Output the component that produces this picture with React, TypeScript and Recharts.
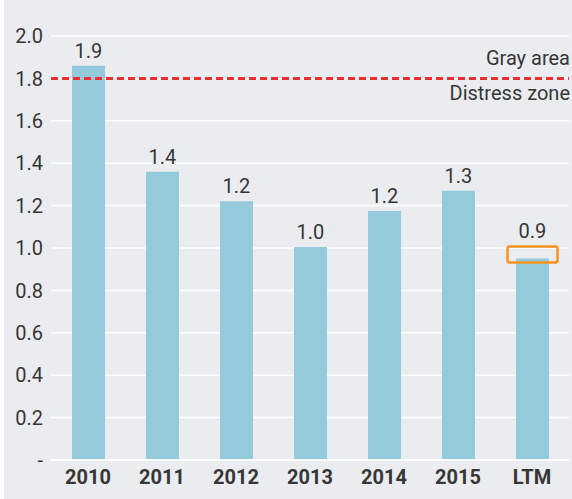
import React from "react";
import {
    BarChart,
    Bar,
    XAxis,
    YAxis,
    CartesianGrid,
    ReferenceLine,
    LabelList,
    Rectangle,
} from "recharts";

const categories = ["2010", "2011", "2012", "2013", "2014", "2015", "LTM"];
const zScores = [1.86, 1.36, 1.22, 1.005, 1.175, 1.27, 0.95];
const yTicks = [0, 0.2, 0.4, 0.6, 0.8, 1.0, 1.2, 1.4, 1.6, 1.8, 2.0];
const distressThreshold = 1.8;
const highlighted = "LTM";

const data = categories.map((year, i) => ({ year, score: zScores[i] }));

const FONT = "Roboto, 'Noto Sans', sans-serif";
const TEXT = "#363636";
const FS = 20;

const ZoneLabels = (props: any) => {
    const { viewBox } = props;
    const right = viewBox.x + viewBox.width + 1;
    return (
        <g fontFamily={FONT} fontSize={FS} fill={TEXT}>
            <text x={right} y={viewBox.y - 13} textAnchor="end">
                Gray area
            </text>
            <text x={right} y={viewBox.y + 22} textAnchor="end">
                Distress zone
            </text>
        </g>
    );
};

const BarWithBox = (props: any) => {
    const { x, y, width, height, payload, fill } = props;
    return (
        <g>
            <Rectangle x={x} y={y} width={width} height={height} fill={fill} />
            {payload.year === highlighted && (
                <rect
                    x={x - 8.5}
                    y={y - 12}
                    width={width + 17}
                    height={16}
                    rx={2}
                    fill="none"
                    stroke="#F7931E"
                    strokeWidth={2.5}
                />
            )}
        </g>
    );
};

const ValueLabel = (props: any) => {
    const { x, y, width, value, index } = props;
    const lift = categories[index] === highlighted ? 21 : 8;
    return (
        <text
            x={x + width / 2}
            y={y - lift}
            textAnchor="middle"
            fontFamily={FONT}
            fontSize={FS}
            fill={TEXT}
        >
            {Number(value).toFixed(1)}
        </text>
    );
};

export default function App() {
    return (
        <div style={{ width: 572, height: 499, background: "#ffffff", display: "flex" }}>
            <style>{`body{margin:0}`}</style>
            <div style={{ marginLeft: 4, width: 568, height: 499, background: "#EBECF0" }}>
                <BarChart
                    width={568}
                    height={499}
                    data={data}
                    barSize={33}
                    margin={{ top: 36, right: 3, left: 0, bottom: 0 }}
                >
                    <CartesianGrid vertical={false} stroke="#ffffff" strokeWidth={1.5} />
                    <XAxis
                        dataKey="year"
                        height={39}
                        axisLine={{ stroke: "#ffffff", strokeWidth: 2 }}
                        tickLine={false}
                        tickSize={0}
                        tickMargin={10}
                        tick={{ fontSize: FS, fontWeight: 700, fill: TEXT, fontFamily: FONT }}
                        interval={0}
                    />
                    <YAxis
                        width={47}
                        domain={[0, 2]}
                        ticks={yTicks}
                        axisLine={false}
                        tickLine={false}
                        tick={{ fontSize: FS, fill: TEXT, fontFamily: FONT }}
                        tickFormatter={(v: number) => (v === 0 ? "-" : v.toFixed(1))}
                    />
                    <Bar
                        dataKey="score"
                        fill="#93CBDC"
                        isAnimationActive={false}
                        shape={<BarWithBox />}
                    >
                        <LabelList dataKey="score" content={<ValueLabel />} />
                    </Bar>
                    <ReferenceLine
                        y={distressThreshold}
                        stroke="#EE2E2E"
                        strokeWidth={3}
                        strokeDasharray="7 4"
                        label={<ZoneLabels />}
                    />
                </BarChart>
            </div>
        </div>
    );
}
